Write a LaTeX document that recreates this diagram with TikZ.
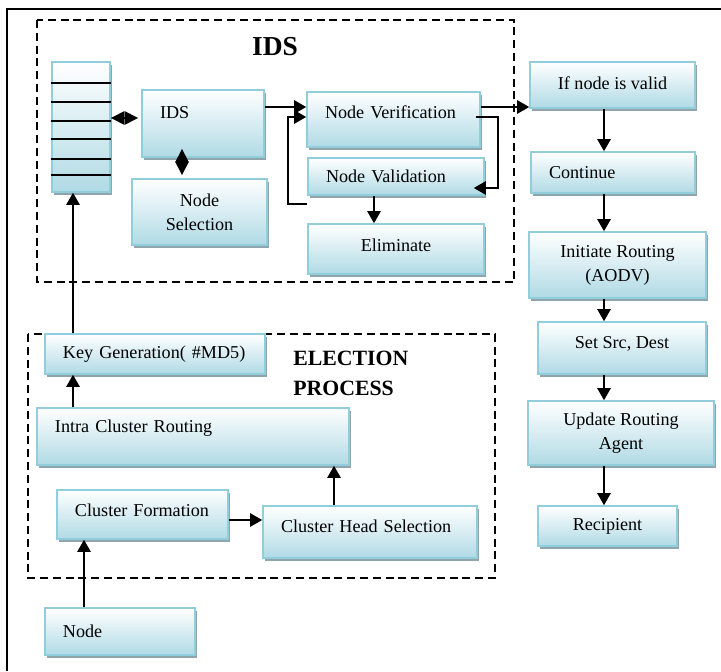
\documentclass[tikz,border=0pt]{standalone}
\usepackage{fontspec}
\setmainfont{Liberation Serif}
\usepackage{tikz}
\usetikzlibrary{positioning, arrows.meta, calc, shadows}

\definecolor{boxline}{HTML}{92CDDC}
\definecolor{boxfill}{HTML}{B0DAE5}
\definecolor{boxshade}{HTML}{8FA5AB}

\begin{document}
\begin{tikzpicture}[
  x=0.25mm, y=-0.25mm,
  font=\fontsize{12.9}{17}\selectfont,
  box/.style={draw=boxline, line width=1.1pt, top color=white, bottom color=boxfill,
    drop shadow={shadow xshift=0.6mm, shadow yshift=-0.7mm, fill=boxshade, opacity=1},
    align=center},
  wh/.style 2 args={minimum width=#1, minimum height=#2},
  ltxt/.style={align=left, text width=#1, inner xsep=4.5mm},
  arrow/.style={-{Triangle[width=3.3mm, length=3mm]}, line width=1.3pt},
  dblarrow/.style={{Triangle[width=3.3mm, length=3.4mm]}-{Triangle[width=3.3mm, length=3.4mm]},
    line width=1.3pt},
  dashbox/.style={dash pattern=on 2mm off 1.2mm, line width=0.9pt},
  outline/.style={line width=1.2pt},
  heading/.style={font=\bfseries\fontsize{#1}{21.3}\selectfont, inner sep=0pt, align=left},
]
  \useasboundingbox (0,0) rectangle (721,671);
  \draw[outline] (7,671) |- (721,9);

  % group frames
  \draw[dashbox] (37,20) rectangle (514,282);
  \draw[dashbox] (28,334) rectangle (495,578);
  \node[heading=19.5] (idstitle) at (275,47) {IDS};
  \node[heading=15.5, anchor=west] (eltitle) at (293,373) {ELECTION\\PROCESS};

  % IDS part
  \node[box, wh={14.5mm}{32.5mm}] (stack) at (81,127) {};
  \foreach \y in {83,102,121,139,159,175}
    \draw[line width=0.9pt] (stack.west |- 0,\y) -- (stack.east |- 0,\y);
  \node[box, wh={30.5mm}{16.75mm}, ltxt=21.5mm, text depth=5.75mm] (ids) at (203,123.5) {IDS};
  \node[box, wh={33.75mm}{16.5mm}] (nsel) at (199.5,212) {Node\\Selection};
  \node[box, wh={43.25mm}{13.75mm}, ltxt=34.25mm, text depth=3.75mm] (nver) at (393.5,119.5) {Node Verification};
  \node[box, wh={44mm}{9.25mm}, ltxt=35mm] (nval) at (396,176.5) {Node Validation};
  \node[box, wh={44mm}{12.5mm}, text depth=2mm] (elim) at (396,249) {Eliminate};

  % routing column
  \node[box, wh={41.25mm}{11.5mm}, text depth=1mm] (valid) at (612.5,85) {If node is valid};
  \node[box, wh={41mm}{10.25mm}, ltxt=32mm] (cont) at (613,172.5) {Continue};
  \node[box, wh={44.25mm}{16.5mm}] (init) at (617.5,265) {Initiate Routing\\(AODV)};
  \node[box, wh={42mm}{13mm}, text depth=3mm] (setsd) at (622,348) {Set Src, Dest};
  \node[box, wh={46.5mm}{16mm}] (upd) at (621,433) {Update Routing\\Agent};
  \node[box, wh={34.75mm}{10mm}] (recip) at (607.5,526) {Recipient};

  % election part
  \node[box, wh={55mm}{10mm}, ltxt=46mm] (keygen) at (155,354) {Key Generation( \#MD5)};
  \node[box, wh={78mm}{14.25mm}, ltxt=69mm, text depth=5mm] (intra) at (193,436.5) {Intra Cluster Routing};
  \node[box, wh={42.75mm}{12.25mm}, ltxt=33.75mm, text depth=2.25mm] (cform) at (142.5,514.5) {Cluster Formation};
  \node[box, wh={53.5mm}{13mm}, ltxt=44.5mm, text depth=3mm] (chsel) at (370,532) {Cluster Head Selection};
  \node[box, wh={37.5mm}{11.75mm}, ltxt=28.5mm] (start) at (120,631.5) {Node};

  \coordinate (srow) at (0,118);
  \coordinate (toprow) at (0,107);
  \coordinate (frow) at (0,520);
  \coordinate (scol) at (182,0);
  \coordinate (ecol) at (374,0);
  \coordinate (rcol) at (604,0);
  \coordinate (lcol) at (73,0);
  \coordinate (ncol) at (84,0);
  \coordinate (hcol) at (334,0);

  \draw[dblarrow] (stack.east |- srow) -- ($(ids.west |- srow)+(-3,0)$);
  \draw[dblarrow] ($(ids.south -| scol)+(0,-9)$) -- ($(nsel.north -| scol)+(0,-3)$);
  \draw[arrow] (ids.east |- toprow) -- (nver.west |- toprow);
  \draw[arrow] (nver.east |- toprow) -- (valid.west |- toprow);
  \draw[arrow] ($(nver.east)+(-5,-2.5)$) -- ++(22,0) |- ($(nval.east)+(-11,11.5)$);
  \draw[arrow] ($(nval.south west)+(0,8)$) -- ++(-19,0) |- ($(nver.west)+(0,-2.5)$);
  \draw[arrow] (nval.south -| ecol) -- (elim.north -| ecol);

  \draw[arrow] (valid.south -| rcol) -- (cont.north -| rcol);
  \draw[arrow] (cont.south -| rcol) -- (init.north -| rcol);
  \draw[arrow] (init.south -| rcol) -- (setsd.north -| rcol);
  \draw[arrow] (setsd.south -| rcol) -- (upd.north -| rcol);
  \draw[arrow] (upd.south -| rcol) -- (recip.north -| rcol);

  \draw[arrow] (keygen.north -| lcol) -- (stack.south -| lcol);
  \draw[arrow] (intra.north -| lcol) -- (keygen.south -| lcol);
  \draw[arrow] (chsel.north -| hcol) -- (intra.south -| hcol);
  \draw[arrow] (cform.east |- frow) -- (chsel.west |- frow);
  \draw[arrow] (start.north -| ncol) -- (cform.south -| ncol);
\end{tikzpicture}
\end{document}
